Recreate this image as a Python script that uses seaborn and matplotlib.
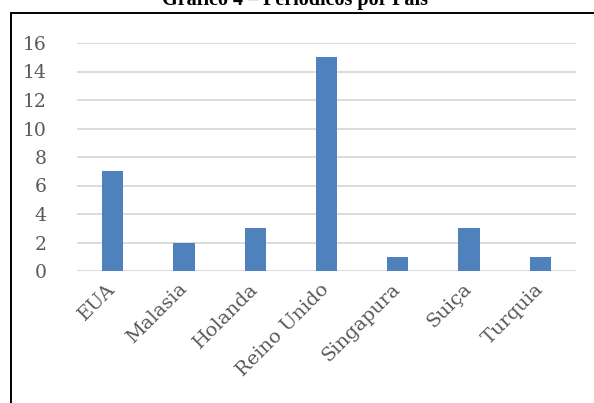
import matplotlib
matplotlib.use("Agg")
import matplotlib.pyplot as plt
import seaborn as sns
import pandas as pd
from matplotlib.lines import Line2D

categories = ["EUA", "Malasia", "Holanda", "Reino Unido", "Singapura", "Suiça", "Turquia"]
values = [7, 2, 3, 15, 1, 3, 1]
yticks = [0, 2, 4, 6, 8, 10, 12, 14, 16]
title = "Gráfico 4 – Periódicos por País"

df = pd.DataFrame({"pais": categories, "n": values})

sns.set_theme(style="white")
W, H = 594, 403
fig = plt.figure(figsize=(W / 100, H / 100), dpi=100)
ax = fig.add_axes([77 / W, 1 - 271 / H, (576 - 77) / W, (271 - 43) / H])

sns.barplot(data=df, x="pais", y="n", ax=ax, color="#4f81bd", saturation=1,
            width=0.30, edgecolor="none", zorder=3)

ax.set_ylim(0, 16)
ax.set_xlim(-0.5, len(categories) - 0.5)
ax.set_yticks(yticks)
ax.yaxis.grid(True, color="#d9d9d9", linewidth=1.3, zorder=0)
ax.set_axisbelow(True)
for s in ax.spines.values():
    s.set_visible(False)
ax.set_xlabel("")
ax.set_ylabel("")
ax.tick_params(axis="both", length=0)
ax.tick_params(axis="y", pad=22)
ax.tick_params(axis="x", pad=11)

ax.set_yticklabels([str(v) for v in yticks], family="DejaVu Serif", size=13.5,
                   color="#595959")
ax.set_xticks(range(len(categories)))
ax.set_xticklabels(categories, rotation=45, ha="right", va="center",
                   rotation_mode="anchor", family="DejaVu Serif", size=14,
                   color="#595959")

# frame of the chart area (top and left border)
fig.add_artist(Line2D([11 / W, 1.0], [1 - 12.5 / H, 1 - 12.5 / H],
                      transform=fig.transFigure, color="black", linewidth=1.4))
fig.add_artist(Line2D([11 / W, 11 / W], [0, 1 - 12.5 / H],
                      transform=fig.transFigure, color="black", linewidth=1.4))

fig.text(295 / W, 1 - 5 / H, title, ha="center", va="baseline",
         fontfamily="Liberation Serif", fontweight="bold", fontsize=14.5,
         color="black")

fig.savefig("out.png", dpi=100)
